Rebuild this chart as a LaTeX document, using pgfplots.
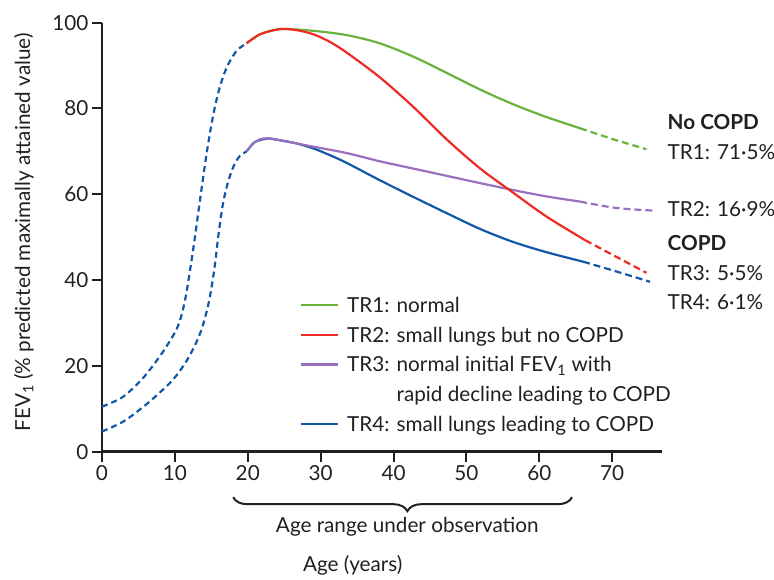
\documentclass[border=0pt]{standalone}
\usepackage{fontspec}
\setmainfont{Lato}
\usepackage{pgfplots}
\pgfplotsset{compat=1.18}
\usetikzlibrary{decorations.pathreplacing}
\definecolor{cgreen}{HTML}{6AB23E}
\definecolor{cred}{HTML}{EE2A24}
\definecolor{cpurple}{HTML}{9970BE}
\definecolor{cblue}{HTML}{1457A8}
\definecolor{ctext}{HTML}{231F20}
\newcommand\fs{\fontsize{20.7bp}{25bp}\selectfont}
\begin{document}
\begin{tikzpicture}
\path[use as bounding box] (-102bp,-128.3bp) rectangle (672bp,451.7bp);
\begin{axis}[
  at={(0,0)}, anchor=south west,
  scale only axis, width=559.7bp, height=429bp,
  xmin=0, xmax=76.8, ymin=0, ymax=100,
  axis x line*=bottom, axis y line*=left,
  axis line style={line width=2.5bp, ctext},
  xtick={0,10,...,70}, ytick={0,20,...,100},
  tick align=outside, major tick length=10bp,
  tick style={line width=2bp, ctext},
  ticklabel style={font=\fs, text=ctext},
  /pgf/number format/assume math mode=true,
  clip=false,
  xlabel={Age (years)},
  ylabel={FEV\textsubscript{1} (\% predicted maximally attained value)},
  xlabel style={at={(axis description cs:0.359,-0.28)}, anchor=base west, inner sep=0pt, font=\fs, text=ctext},
  ylabel style={at={(axis description cs:-0.1286,0.511)}, anchor=base, inner sep=0pt, font=\fs, text=ctext},
  legend image code/.code={\draw[#1] (0bp,7.5bp) -- (37bp,7.5bp);},
  legend style={draw=none, fill=none, inner sep=0pt, outer sep=0pt,
    at={(axis description cs:0.3538,0.3600)}, anchor=north west,
    row sep=8.6bp, column sep=8bp, font=\fs, text=ctext,
    nodes={inner sep=0pt, text height=15.5bp, text depth=5.5bp},
    cells={anchor=base west}},
  every axis plot/.append style={line width=2.2bp},
]
% early growth (dashed)
\addplot[cblue, smooth, dash pattern=on 6bp off 4bp, forget plot] coordinates {
 (0,10.5) (2.9,12.8) (5.7,17.3) (8.0,22.4) (9.6,26.6) (10.4,29.2) (11.0,32.4) (11.6,37.2) (12.5,47) (13.45,58.7) (14.4,70.0) (15.3,78.8) (16.2,85.2) (17.2,89.9) (18.5,93.5) (19.85,95.2)};
\addplot[cblue, smooth, dash pattern=on 6bp off 4bp, forget plot] coordinates {
 (0,4.7) (2.9,7.0) (5.7,10.5) (8,13.9) (9.8,16.9) (11.4,20.6) (12.7,24.6) (13.6,28.2) (14.2,31.6) (14.75,35.6) (15.4,42.4) (16.0,50.8) (16.6,57.8) (17.3,62.9) (18.1,66.7) (18.9,68.9) (19.85,70.0)};
% TR1 green
\addplot[cgreen, smooth, forget plot] coordinates {
 (19.85,95.2) (21.7,97.3) (24.4,98.5) (29,98.1) (33.6,97.1) (38.1,95.2) (42.7,92.1) (47.3,88.3) (51.9,84.4) (56.4,81.0) (61,78.0) (65.6,75.4)};
\addplot[cgreen, smooth, dash pattern=on 7bp off 4bp, forget plot] coordinates {
 (65.6,75.4) (70.2,72.8) (74.7,70.5)};
% TR4 blue
\addplot[cblue, smooth, forget plot] coordinates {
 (19.85,70.0) (21,72.2) (22.8,73.0) (24.4,72.6) (26.6,71.9) (29,70.7) (31.3,69.1) (33.6,67.3) (38.1,63.3) (42.7,59.4) (47.3,55.6) (51.9,51.9) (56.4,48.9) (61,46.5) (66,44.3)};
\addplot[cblue, smooth, dash pattern=on 7bp off 4bp, forget plot] coordinates {
 (66,44.3) (70.6,42.0) (75.2,39.6)};
% TR3 purple
\addplot[cpurple, smooth, forget plot] coordinates {
 (19.85,70.0) (21,72.2) (22.8,73.0) (29,71.1) (33.6,69.6) (38.1,67.7) (42.7,66.0) (47.3,64.3) (51.9,62.6) (56.4,61.0) (61,59.5) (65.6,58.3)};
\addplot[cpurple, smooth, dash pattern=on 7bp off 4bp, forget plot] coordinates {
 (65.6,58.3) (70.6,56.8) (75.7,56.2)};
% TR2 red
\addplot[cred, smooth, forget plot] coordinates {
 (19.85,95.2) (21.7,97.3) (24.4,98.5) (26.6,98.3) (29,97.3) (31.3,95.5) (33.6,93.0) (38.1,87.3) (42.7,80.4) (47.3,72.8) (51.9,66.0) (56.4,60.4) (61,54.8) (66.3,49.3)};
\addplot[cred, smooth, dash pattern=on 7bp off 4bp, forget plot] coordinates {
 (66.3,49.3) (70.6,45.4) (74.7,41.7)};

\addlegendimage{cgreen, line width=2.2bp}
\addlegendentry{TR1: normal}
\addlegendimage{cred, line width=2.2bp}
\addlegendentry{TR2: small lungs but no COPD}
\addlegendimage{cpurple, line width=2.2bp}
\addlegendentry{TR3: normal initial FEV\textsubscript{1} with}
\addlegendimage{empty legend}
\addlegendentry{\phantom{TR3: }rapid decline leading to COPD}
\addlegendimage{cblue, line width=2.2bp}
\addlegendentry{TR4: small lungs leading to COPD}

\draw[decorate, decoration={brace, amplitude=14bp, aspect=0.486}, line width=2bp, ctext]
  (axis cs:64.5,-10.6) -- (axis cs:18,-10.6);
\node[anchor=base, font=\fs, text=ctext] at (axis cs:41.9,-18.95) {Age range under observation};

\node[anchor=base west, inner sep=0pt, font=\fs\bfseries, text=ctext] at (axis cs:77.6,75.0) {No COPD};
\node[anchor=base west, inner sep=0pt, font=\fs, text=ctext] at (axis cs:77.6,68.2) {TR1: 71·5\%};
\node[anchor=base west, inner sep=0pt, font=\fs, text=ctext] at (axis cs:77.6,54.8) {TR2: 16·9\%};
\node[anchor=base west, inner sep=0pt, font=\fs\bfseries, text=ctext] at (axis cs:77.6,47.0) {COPD};
\node[anchor=base west, inner sep=0pt, font=\fs, text=ctext] at (axis cs:77.6,40.0) {TR3: 5·5\%};
\node[anchor=base west, inner sep=0pt, font=\fs, text=ctext] at (axis cs:77.6,33.2) {TR4: 6·1\%};
\end{axis}
\end{tikzpicture}
\end{document}
